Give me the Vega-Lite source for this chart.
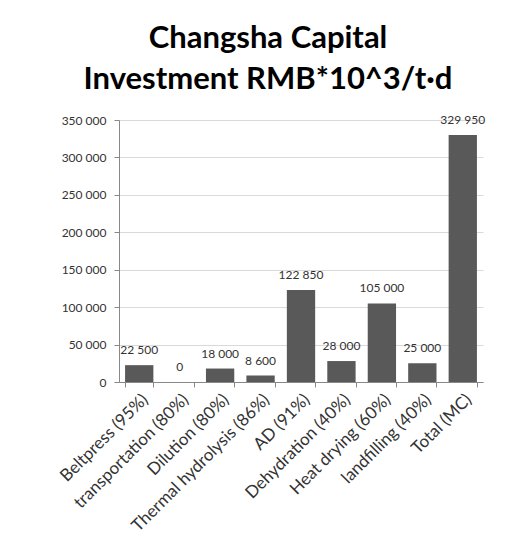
{
  "$schema": "https://vega.github.io/schema/vega-lite/v6.json",
  "autosize": {"type": "none"},
  "padding": {"left": 119, "top": 120, "right": 25, "bottom": 177},
  "width": 364,
  "height": 262,
  "background": "white",
  "config": {
    "locale": {"number": {"decimal": ".", "thousands": " ", "grouping": [3], "currency": ["", ""]}},
    "view": {"stroke": null},
    "font": "Lato"
  },
  "title": {
    "text": ["Changsha Capital", "Investment RMB*10^3/t·d"],
    "fontSize": 31,
    "font": "Lato",
    "fontWeight": "bold",
    "color": "#000000",
    "lineHeight": 41,
    "anchor": "middle",
    "dx": -33,
    "offset": 18
  },
  "data": {
    "values": [
      {"step": "Beltpress (95%)", "value": 22500},
      {"step": "transportation (80%)", "value": 0},
      {"step": "Dilution (80%)", "value": 18000},
      {"step": "Thermal hydrolysis (86%)", "value": 8600},
      {"step": "AD (91%)", "value": 122850},
      {"step": "Dehydration (40%)", "value": 28000},
      {"step": "Heat drying (60%)", "value": 105000},
      {"step": "landfilling (40%)", "value": 25000},
      {"step": "Total (MC)", "value": 329950}
    ]
  },
  "encoding": {
    "x": {
      "field": "step",
      "type": "nominal",
      "sort": null,
      "scale": {"paddingInner": 0.3, "paddingOuter": 0.15},
      "axis": {
        "title": null,
        "labelAngle": -45,
        "labelAlign": "right",
        "labelBaseline": "top",
        "labelFontSize": 17,
        "labelColor": "#333333",
        "labelPadding": 4,
        "domainColor": "#888888",
        "tickColor": "#888888",
        "tickBand": "extent",
        "tickSize": 5,
        "labelLimit": 300
      }
    },
    "y": {
      "field": "value",
      "type": "quantitative",
      "scale": {"domain": [0, 350000], "nice": false},
      "axis": {
        "title": null,
        "values": [0, 50000, 100000, 150000, 200000, 250000, 300000, 350000],
        "format": ",d",
        "labelFontSize": 12,
        "labelColor": "#333333",
        "domainColor": "#888888",
        "tickColor": "#888888",
        "tickSize": 5,
        "gridColor": "#d9d9d9",
        "labelPadding": 8
      }
    }
  },
  "layer": [
    {"mark": {"type": "bar", "color": "#595959"}},
    {
      "mark": {"type": "text", "dy": -15, "fontSize": 12, "color": "#333333"},
      "encoding": {"text": {"field": "value", "type": "quantitative", "format": ",d"}}
    }
  ]
}
